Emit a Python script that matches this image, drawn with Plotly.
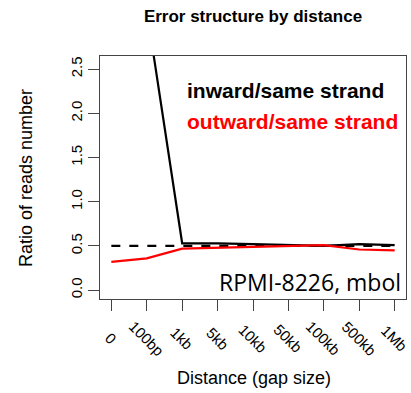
import plotly.graph_objects as go

categories = ["0", "100bp", "1kb", "5kb", "10kb", "50kb", "100kb", "500kb", "1Mb"]
inward = [4.0, 3.17, 0.53, 0.53, 0.52, 0.51, 0.50, 0.52, 0.51]
outward = [0.32, 0.36, 0.47, 0.48, 0.49, 0.50, 0.51, 0.46, 0.45]
ref_level = 0.5
y_ticks = [0.0, 0.5, 1.0, 1.5, 2.0, 2.5]

xs = list(range(1, len(categories) + 1))
FONT = "Liberation Sans, Arial, sans-serif"
W, H = 411, 393
L, R, T, B = 100, 5, 56, 94
PW, PH = W - L - R, H - T - B

def px(xp):
    return (xp - L) / PW

def py(yp):
    return (H - B - yp) / PH

fig = go.Figure()
fig.add_trace(go.Scatter(x=xs, y=[ref_level] * len(xs), mode="lines",
                         line=dict(color="black", width=2.2, dash="dash"), showlegend=False))
fig.add_trace(go.Scatter(x=xs, y=inward, mode="lines",
                         line=dict(color="black", width=2.2), showlegend=False))
fig.add_trace(go.Scatter(x=xs, y=outward, mode="lines",
                         line=dict(color="red", width=2.2), showlegend=False))

annotations = []
for xi, lab in zip(xs, categories):
    annotations.append(dict(x=xi, y=py(338), xref="x", yref="paper", text=lab, showarrow=False,
                            textangle=45, xanchor="center", yanchor="middle",
                            font=dict(family=FONT, size=15, color="black")))
annotations += [
    dict(x=px(185), y=py(90), xref="paper", yref="paper", text="<b>inward/same strand</b>",
         showarrow=False, xanchor="left", yanchor="middle",
         font=dict(family=FONT, size=21, color="black")),
    dict(x=px(185), y=py(121), xref="paper", yref="paper", text="<b>outward/same strand</b>",
         showarrow=False, xanchor="left", yanchor="middle",
         font=dict(family=FONT, size=21, color="red")),
    dict(x=px(403), y=py(282), xref="paper", yref="paper", text="RPMI-8226, mbol",
         showarrow=False, xanchor="right", yanchor="middle",
         font=dict(family="Open Sans, sans-serif", size=23, color="black")),
    dict(x=px(254), y=py(378), xref="paper", yref="paper", text="Distance (gap size)",
         showarrow=False, xanchor="center", yanchor="middle",
         font=dict(family=FONT, size=18, color="black")),
    dict(x=px(26), y=py(178), xref="paper", yref="paper", text="Ratio of reads number",
         showarrow=False, xanchor="center", yanchor="middle", textangle=-90,
         font=dict(family=FONT, size=18, color="black")),
]

fig.update_layout(
    width=W, height=H,
    margin=dict(l=L, r=R, t=T, b=B),
    plot_bgcolor="white", paper_bgcolor="white",
    title=dict(text="<b>Error structure by distance</b>", x=253 / W, xanchor="center",
               y=1 - 16 / H, yanchor="middle",
               font=dict(family=FONT, size=17, color="black")),
    xaxis=dict(range=[0.68, 9.32], tickvals=xs, ticktext=[""] * len(xs), showgrid=False,
               zeroline=False, showline=True, mirror=True, linecolor="#444", linewidth=1,
               ticks="outside", ticklen=11, tickcolor="#444"),
    yaxis=dict(range=[-0.1, 2.648], tickvals=y_ticks,
               ticktext=[f"{v:.1f}" for v in y_ticks], tickangle=-90, showgrid=False,
               zeroline=False, showline=True, mirror=True, linecolor="#444", linewidth=1,
               ticks="outside", ticklen=11, tickcolor="#444",
               tickfont=dict(family=FONT, size=15, color="black")),
    annotations=annotations,
)

fig.write_html("out.html")
